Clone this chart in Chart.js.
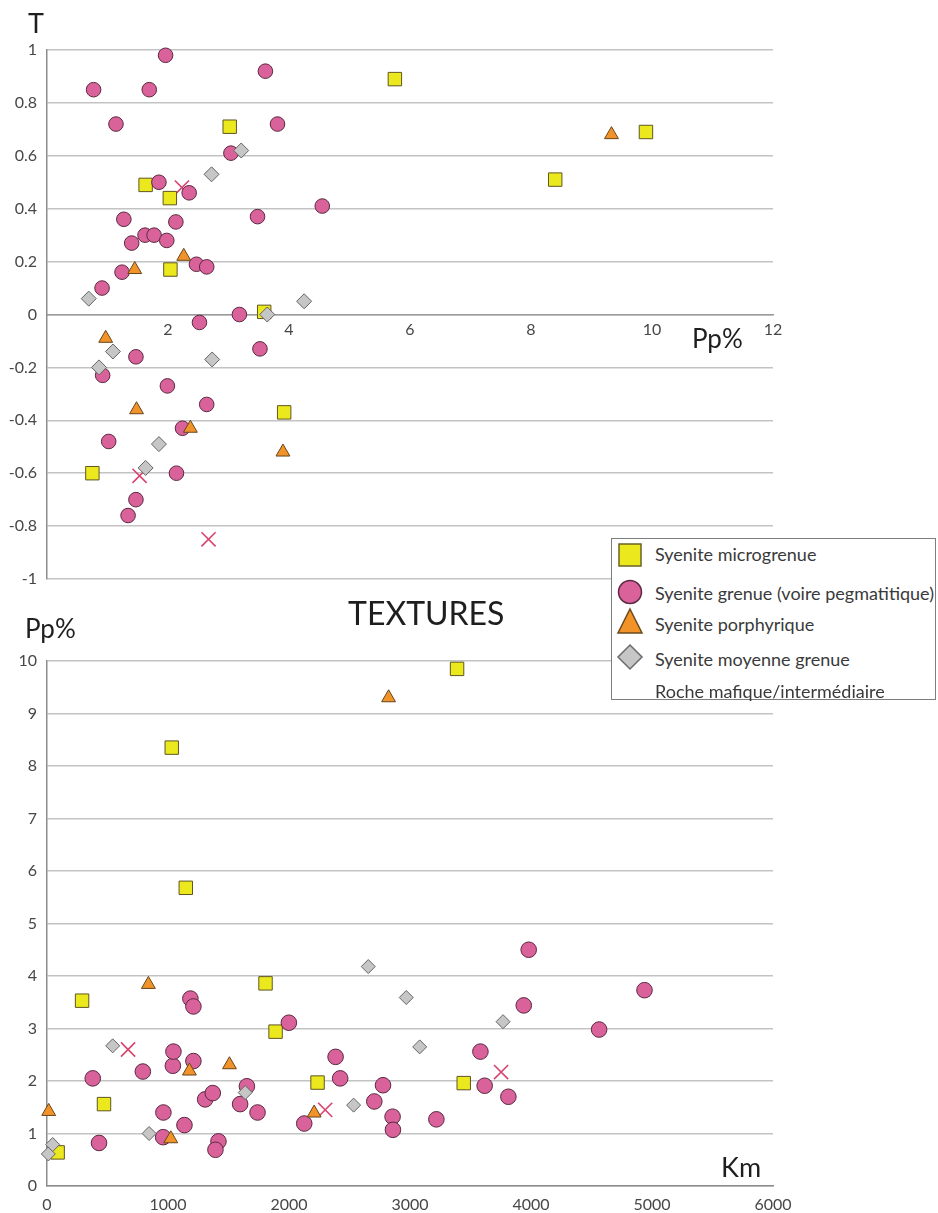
<!DOCTYPE html>
<html>
<head>
<meta charset="utf-8">
<script src="https://cdn.jsdelivr.net/npm/chart.js@4.4.1/dist/chart.umd.min.js"></script>
<style>
  body { margin:0; width:938px; height:1213px; overflow:hidden; background:#fff; position:relative; font-family:"Lato", sans-serif; }
  canvas { position:absolute; left:0; }
  #chartHaut { top:0; }
  #chartBas { top:600px; }
  .titre { position:absolute; color:#1e1e1e; white-space:nowrap; line-height:1; font-family:"Lato", sans-serif; }
  #legende { position:absolute; left:611px; top:538px; width:323px; height:160px; border:1px solid #7d7d7d; background:#fff; z-index:5; }
  .ligne { position:absolute; left:43px; font-size:18px; color:#3a3a3a; white-space:nowrap; line-height:1; }
  .marque { position:absolute; left:4px; }
</style>
</head>
<body>
<canvas id="chartHaut" width="938" height="600"></canvas>
<canvas id="chartBas" width="938" height="613"></canvas>

<div class="titre" style="left:28px; top:9px; font-size:27px;">T</div>
<div class="titre" style="left:692px; top:325px; font-size:26px;">Pp%</div>
<div class="titre" style="left:25px; top:615px; font-size:26px;">Pp%</div>
<div class="titre" style="left:348px; top:597px; font-size:32px;">TEXTURES</div>
<div class="titre" style="left:721px; top:1153px; font-size:27px;">Km</div>

<div id="legende">
  <svg class="marque" style="top:2px" width="28" height="28"><rect x="3" y="3" width="22" height="22" fill="#ece81e" stroke="#6b6224" stroke-width="1.5"/></svg>
  <div class="ligne" style="top:6px">Syenite microgrenue</div>
  <svg class="marque" style="top:39px" width="28" height="28"><circle cx="14" cy="14" r="11.5" fill="#d9629a" stroke="#5e2a42" stroke-width="1.5"/></svg>
  <div class="ligne" style="top:45px">Syenite grenue (voire pegmatitique)</div>
  <svg class="marque" style="top:68px" width="28" height="28"><polygon points="14,2 26,26 2,26" fill="#f2932a" stroke="#6a4a1e" stroke-width="1.5"/></svg>
  <div class="ligne" style="top:76px">Syenite porphyrique</div>
  <svg class="marque" style="top:104px" width="28" height="28"><polygon points="14,2 26,14 14,26 2,14" fill="#c6c6c6" stroke="#6c6c6c" stroke-width="1.5"/></svg>
  <div class="ligne" style="top:111px">Syenite moyenne grenue</div>
  <div class="ligne" style="top:143px">Roche mafique/intermédiaire</div>
</div>

<script>
// ---- Données : T en fonction de Pp% (graphique du haut) ----
const hautMicrogrenue = [[1.63,0.49],[2.03,0.44],[3.02,0.71],[2.04,0.17],[3.59,0.01],[3.92,-0.37],[0.75,-0.60],[5.75,0.89],[8.40,0.51],[9.90,0.69]];
const hautGrenue = [[0.77,0.85],[1.96,0.98],[1.69,0.85],[3.61,0.92],[1.14,0.72],[3.81,0.72],[3.04,0.61],[1.85,0.50],[2.35,0.46],
  [1.27,0.36],[3.48,0.37],[2.13,0.35],[1.62,0.30],[1.77,0.30],[1.98,0.28],[1.40,0.27],[1.24,0.16],[2.47,0.19],[2.64,0.18],
  [0.91,0.10],[4.55,0.41],[3.18,0.00],[2.52,-0.03],[3.52,-0.13],[1.47,-0.16],[0.92,-0.23],[1.99,-0.27],[2.64,-0.34],
  [2.24,-0.43],[1.02,-0.48],[2.14,-0.60],[1.47,-0.70],[1.34,-0.76]];
const hautPorphyrique = [[1.45,0.17],[2.26,0.22],[0.97,-0.09],[1.48,-0.36],[2.37,-0.43],[3.90,-0.52],[9.33,0.68]];
const hautMoyenne = [[0.69,0.06],[2.72,0.53],[3.21,0.62],[4.25,0.05],[3.64,0.00],[1.09,-0.14],[0.86,-0.20],[2.73,-0.17],[1.85,-0.49],[1.63,-0.58]];
const hautMafique = [[1.53,-0.61],[2.67,-0.85],[2.23,0.48]];

// ---- Données : Pp% en fonction de la distance Km (graphique du bas) ----
const basMicrogrenue = [[290,3.53],[471,1.56],[1806,3.86],[1889,2.94],[2236,1.97],[88,0.64],[1031,8.35],[1147,5.68],[3389,9.85],[3444,1.96]];
const basGrenue = [[378,2.05],[430,0.82],[792,2.18],[962,1.40],[960,0.93],[1040,2.29],[1045,2.56],[1185,3.57],[1210,3.42],
  [1210,2.38],[1136,1.16],[1307,1.65],[1370,1.77],[1417,0.85],[1392,0.69],[1652,1.90],[1596,1.56],[1740,1.40],[1999,3.11],
  [2126,1.19],[2385,2.46],[2423,2.05],[2777,1.92],[2705,1.61],[2856,1.32],[2859,1.07],[3981,4.50],[3940,3.44],[4938,3.73],
  [4563,2.98],[3582,2.56],[3617,1.91],[3813,1.70],[3218,1.27]];
const basPorphyrique = [[14,1.42],[838,3.84],[1177,2.19],[1023,0.90],[1508,2.31],[2208,1.39],[2823,9.30]];
const basMoyenne = [[11,0.61],[47,0.79],[543,2.67],[844,1.00],[1638,1.78],[2534,1.54],[2655,4.18],[2969,3.59],[3769,3.13],[3080,2.65]];
const basMafique = [[670,2.60],[2299,1.45],[3753,2.17]];

const ticksHautX = [2, 4, 6, 8, 10, 12];

Chart.defaults.font.family = "Lato";
Chart.defaults.font.size = 16;
Chart.defaults.color = "#474747";

const pts = arr => arr.map(p => ({x: p[0], y: p[1]}));

function jeuxDonnees(micro, grenue, porph, moy, maf, tailles) {
    return [
        { label: "Syenite microgrenue", data: pts(micro), pointStyle: "rect", pointRadius: tailles.rect,
          backgroundColor: "#ece81e", borderColor: "#5f5722", borderWidth: 1, order: 4, clip: false },
        { label: "Syenite grenue (voire pegmatitique)", data: pts(grenue), pointStyle: "circle", pointRadius: tailles.circle,
          backgroundColor: "#d9629a", borderColor: "#5a2840", borderWidth: 1, order: 3, clip: false },
        { label: "Syenite porphyrique", data: pts(porph), pointStyle: "triangle", pointRadius: tailles.tri,
          backgroundColor: "#f2932a", borderColor: "#66461c", borderWidth: 1, order: 2, clip: false },
        { label: "Syenite moyenne grenue", data: pts(moy), pointStyle: "rectRot", pointRadius: tailles.diam,
          backgroundColor: "#c6c6c6", borderColor: "#646464", borderWidth: 1, order: 1, clip: false },
        { label: "Roche mafique/intermédiaire", data: pts(maf), pointStyle: "crossRot", pointRadius: 10,
          backgroundColor: "#d8436f", borderColor: "#d8436f", borderWidth: 1.6, order: 5, clip: false }
    ];
}

const communs = {
    responsive: false,
    animation: false,
    events: [],
    plugins: { legend: { display: false }, tooltip: { enabled: false } }
};

/* ============================================================
   GRAPHIQUE DU HAUT : T / Pp%
============================================================ */
new Chart(document.getElementById("chartHaut"), {
    type: "scatter",
    data: { datasets: jeuxDonnees(hautMicrogrenue, hautGrenue, hautPorphyrique, hautMoyenne, hautMafique,
        { rect: 9.5, circle: 7.3, tri: 8, diam: 7.5 }) },
    options: {
        ...communs,
        layout: { padding: { left: 0, right: 165, top: 50, bottom: 21 } },
        scales: {
            x: {
                type: "linear", min: 0, max: 12, position: { y: 0 },
                grid: { color: "rgba(0,0,0,0)", drawTicks: false },
                border: { color: "#9a9a9a", width: 1.5 },
                afterBuildTicks: s => { s.ticks = ticksHautX.map(v => ({ value: v })); },
                ticks: { padding: 6, callback: v => String(v) }
            },
            y: {
                min: -1, max: 1,
                grid: { color: "#c3c3c3", lineWidth: 1.5, drawTicks: false },
                border: { color: "#8c8c8c", width: 1.5 },
                ticks: { stepSize: 0.2, padding: 10, callback: v => String(parseFloat(v.toFixed(1))) },
                afterFit: s => { s.width = 47; }
            }
        }
    }
});

/* ============================================================
   GRAPHIQUE DU BAS : Pp% / Km
============================================================ */
new Chart(document.getElementById("chartBas"), {
    type: "scatter",
    data: { datasets: jeuxDonnees(basMicrogrenue, basGrenue, basPorphyrique, basMoyenne, basMafique,
        { rect: 9.5, circle: 7.8, tri: 8, diam: 7 }) },
    options: {
        ...communs,
        layout: { padding: { left: 0, right: 165, top: 61, bottom: 0 } },
        scales: {
            x: {
                type: "linear", min: 0, max: 6000, position: "bottom",
                grid: { color: "rgba(0,0,0,0)", drawTicks: false },
                border: { color: "#8c8c8c", width: 1.5 },
                ticks: { stepSize: 1000, padding: 9, callback: v => String(v) },
                afterFit: s => { s.height = 27; }
            },
            y: {
                min: 0, max: 10,
                grid: { color: "#c3c3c3", lineWidth: 1.5, drawTicks: false },
                border: { color: "#8c8c8c", width: 1.5 },
                ticks: { stepSize: 1, padding: 10, callback: v => String(v) },
                afterFit: s => { s.width = 47; }
            }
        }
    }
});
</script>
</body>
</html>
